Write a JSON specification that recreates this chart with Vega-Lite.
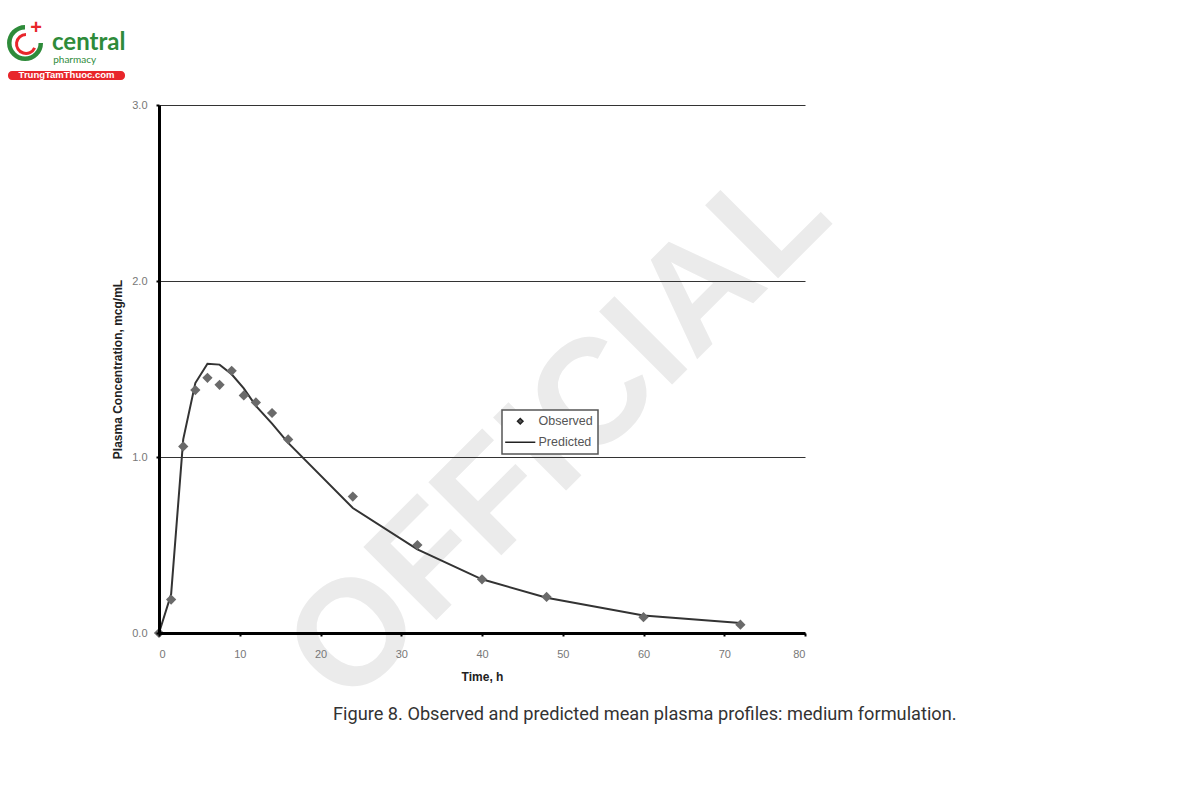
{
  "$schema": "https://vega.github.io/schema/vega-lite/v6.json",
  "width": 646,
  "height": 528,
  "autosize": {"type": "none"},
  "padding": {"left": 159, "top": 105, "right": 395, "bottom": 167},
  "background": "white",
  "config": {
    "view": {"stroke": null},
    "font": "Liberation Sans"
  },
  "title": {
    "text": "Figure 8. Observed and predicted mean plasma profiles: medium formulation.",
    "orient": "bottom",
    "anchor": "start",
    "frame": "group",
    "dx": 174,
    "offset": -25,
    "font": "Roboto",
    "fontSize": 18.2,
    "fontWeight": "normal",
    "color": "#333333"
  },
  "datasets": {
    "pk": [
      {"t": 0, "c": 0, "series": "Observed"},
      {"t": 1.5, "c": 0.19, "series": "Observed"},
      {"t": 3, "c": 1.06, "series": "Observed"},
      {"t": 4.5, "c": 1.38, "series": "Observed"},
      {"t": 6, "c": 1.45, "series": "Observed"},
      {"t": 7.5, "c": 1.41, "series": "Observed"},
      {"t": 9, "c": 1.49, "series": "Observed"},
      {"t": 10.5, "c": 1.35, "series": "Observed"},
      {"t": 12, "c": 1.31, "series": "Observed"},
      {"t": 14, "c": 1.25, "series": "Observed"},
      {"t": 16, "c": 1.10, "series": "Observed"},
      {"t": 24, "c": 0.775, "series": "Observed"},
      {"t": 32, "c": 0.50, "series": "Observed"},
      {"t": 40, "c": 0.305, "series": "Observed"},
      {"t": 48, "c": 0.205, "series": "Observed"},
      {"t": 60, "c": 0.09, "series": "Observed"},
      {"t": 72, "c": 0.047, "series": "Observed"},
      {"t": 0, "c": 0, "series": "Predicted"},
      {"t": 1.5, "c": 0.22, "series": "Predicted"},
      {"t": 3, "c": 1.10, "series": "Predicted"},
      {"t": 4.5, "c": 1.42, "series": "Predicted"},
      {"t": 6, "c": 1.53, "series": "Predicted"},
      {"t": 7.5, "c": 1.525, "series": "Predicted"},
      {"t": 9, "c": 1.47, "series": "Predicted"},
      {"t": 10.5, "c": 1.39, "series": "Predicted"},
      {"t": 12, "c": 1.29, "series": "Predicted"},
      {"t": 14, "c": 1.19, "series": "Predicted"},
      {"t": 16, "c": 1.08, "series": "Predicted"},
      {"t": 24, "c": 0.71, "series": "Predicted"},
      {"t": 32, "c": 0.475, "series": "Predicted"},
      {"t": 40, "c": 0.305, "series": "Predicted"},
      {"t": 48, "c": 0.20, "series": "Predicted"},
      {"t": 60, "c": 0.10, "series": "Predicted"},
      {"t": 72, "c": 0.057, "series": "Predicted"}
    ],
    "watermark": [
      {"t": 49.6, "c": 1.135, "label": "OFFICIAL"}
    ],
    "logo": [
      {"t": -13.25, "c": 3.3125, "label": "central", "part": "word"},
      {"t": -13.1, "c": 3.239, "label": "pharmacy", "part": "sub"},
      {"t": -11.45, "c": 3.168, "label": "TrungTamThuoc.com", "part": "site"},
      {"t": -15.23, "c": 3.435, "label": "+", "part": "cross"}
    ],
    "ring": [
      {"t": -16.59, "c": 3.352, "part": "outer"},
      {"t": -16.47, "c": 3.347, "part": "inner"}
    ],
    "pill": [
      {"t": -18.7, "t2": -4.21, "c": 3.193, "c2": 3.142}
    ]
  },
  "encoding": {
    "x": {
      "field": "t",
      "type": "quantitative",
      "scale": {"domain": [0, 80], "nice": false, "zero": false},
      "axis": {
        "title": "Time, h",
        "titleFont": "Liberation Sans",
        "titleFontSize": 12,
        "titleFontWeight": "bold",
        "titleColor": "#222222",
        "titlePadding": 12,
        "values": [0, 10, 20, 30, 40, 50, 60, 70, 80],
        "grid": false,
        "domainColor": "#000000",
        "domainWidth": 3,
        "tickColor": "#000000",
        "tickSize": 3,
        "tickWidth": 2,
        "labelColor": "#777777",
        "labelFontSize": 11,
        "labelPadding": 12,
        "zindex": 1
      }
    },
    "y": {
      "field": "c",
      "type": "quantitative",
      "scale": {"domain": [0, 3], "nice": false, "zero": false},
      "axis": {
        "title": "Plasma Concentration,  mcg/mL",
        "titleFont": "Liberation Sans",
        "titleFontSize": 12,
        "titleFontWeight": "bold",
        "titleColor": "#222222",
        "titlePadding": 7,
        "values": [0, 1, 2, 3],
        "format": ".1f",
        "grid": true,
        "gridColor": "#333333",
        "gridWidth": 1,
        "domainColor": "#000000",
        "domainWidth": 3,
        "tickColor": "#000000",
        "tickSize": 3,
        "tickWidth": 2,
        "labelColor": "#777777",
        "labelFontSize": 11,
        "labelPadding": 9,
        "zindex": 1
      }
    }
  },
  "layer": [
    {
      "data": {"name": "watermark"},
      "mark": {
        "type": "text",
        "angle": -45,
        "fontSize": 150,
        "fontWeight": "bold",
        "font": "Liberation Sans",
        "color": "#ebebeb",
        "align": "center",
        "baseline": "middle"
      },
      "encoding": {"text": {"field": "label"}}
    },
    {
      "data": {"name": "pk"},
      "transform": [{"filter": "datum.series === 'Predicted'"}],
      "mark": {"type": "line", "color": "#333333", "strokeWidth": 2},
      "encoding": {}
    },
    {
      "data": {"name": "pk"},
      "transform": [{"filter": "datum.series === 'Observed'"}],
      "mark": {"type": "point", "filled": true, "color": "#6a6a6a", "opacity": 1, "size": 105},
      "encoding": {
        "shape": {
          "field": "series",
          "type": "nominal",
          "scale": {"domain": ["Observed", "Predicted"], "range": ["diamond", "M-5.5,0L5.5,0"]},
          "legend": {
            "title": null,
            "orient": "none",
            "legendX": 343,
            "legendY": 305,
            "direction": "vertical",
            "strokeColor": "#555555",
            "fillColor": "white",
            "padding": 5,
            "rowPadding": 8,
            "symbolOffset": 7,
            "symbolSize": 30,
            "labelFont": "Liberation Sans",
            "labelFontSize": 12.5,
            "labelColor": "#555555",
            "labelOffset": 12,
            "zindex": 2,
            "encoding": {
              "legend": {"strokeWidth": {"value": 1.5}},
              "symbols": {"fill": {"value": "#555555"}, "stroke": {"value": "#222222"}, "strokeWidth": {"value": 1.5}, "opacity": {"value": 1}}
            }
          }
        }
      }
    },
    {
      "data": {"name": "pill"},
      "mark": {"type": "rect", "color": "#e8262b", "cornerRadius": 4},
      "encoding": {
        "x": {"field": "t", "type": "quantitative"},
        "x2": {"field": "t2"},
        "y": {"field": "c", "type": "quantitative"},
        "y2": {"field": "c2"}
      }
    },
    {
      "data": {"name": "ring"},
      "transform": [{"filter": "datum.part === 'outer'"}],
      "mark": {"type": "arc", "color": "#2e8b3a", "theta": 1.57, "theta2": 6.28, "radius": 18, "radius2": 13.5},
      "encoding": {}
    },
    {
      "data": {"name": "ring"},
      "transform": [{"filter": "datum.part === 'inner'"}],
      "mark": {"type": "arc", "color": "#e8262b", "theta": 2.0, "theta2": 6.28, "radius": 11, "radius2": 8},
      "encoding": {}
    },
    {
      "data": {"name": "logo"},
      "transform": [{"filter": "datum.part === 'word'"}],
      "mark": {"type": "text", "font": "Lato", "fontSize": 24, "fontWeight": "bold", "color": "#2e8b3a", "align": "left", "baseline": "alphabetic"},
      "encoding": {"text": {"field": "label"}}
    },
    {
      "data": {"name": "logo"},
      "transform": [{"filter": "datum.part === 'sub'"}],
      "mark": {"type": "text", "font": "Lato", "fontSize": 10, "color": "#2e8b3a", "align": "left", "baseline": "alphabetic"},
      "encoding": {"text": {"field": "label"}}
    },
    {
      "data": {"name": "logo"},
      "transform": [{"filter": "datum.part === 'site'"}],
      "mark": {"type": "text", "font": "Liberation Sans", "fontSize": 9.5, "fontWeight": "bold", "color": "white", "align": "center", "baseline": "middle"},
      "encoding": {"text": {"field": "label"}}
    },
    {
      "data": {"name": "logo"},
      "transform": [{"filter": "datum.part === 'cross'"}],
      "mark": {"type": "text", "font": "Liberation Sans", "fontSize": 20, "fontWeight": "bold", "color": "#e8262b", "align": "center", "baseline": "middle"},
      "encoding": {"text": {"field": "label"}}
    }
  ]
}
